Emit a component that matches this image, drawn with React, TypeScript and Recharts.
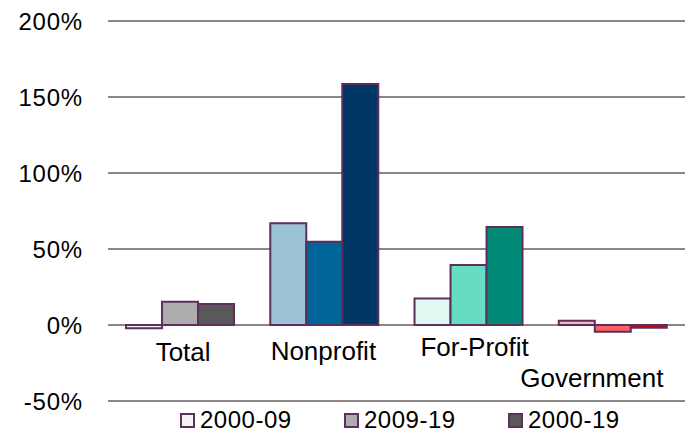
import { BarChart, Bar, XAxis, YAxis, CartesianGrid, Cell } from "recharts";

const categories = ["Total", "Nonprofit", "For-Profit", "Government"];
const seriesNames = ["2000-09", "2009-19", "2000-19"];
const values0009 = [-2.2, 66.9, 17.5, 2.8];
const values0919 = [15.3, 54.8, 39.5, -4.4];
const values0019 = [13.8, 158.6, 64.5, -1.8];
const yTicks = [-50, 0, 50, 100, 150, 200];

// fill colours per category, one list per series
const fills0009 = ["#f2f2f2", "#9dc3d6", "#e0f9ef", "#f9b5b8"];
const fills0919 = ["#adadad", "#006599", "#66dcc2", "#ff6161"];
const fills0019 = ["#595959", "#003764", "#008975", "#c00000"];
const legendFills = ["#f2f2f2", "#adadad", "#595959"];

const STROKE = "#5e2f5e";
const GRID = "#8e8585";
const FONT = "Arial, 'Liberation Sans', sans-serif";

// Excel puts the category labels in odd places; shift each one to match
// (offsets are measured from the bottom edge of the plot)
const labelShift: [number, number][] = [
  [3, -49],
  [-1, -50],
  [6, -54],
  [-21, -23],
];

const data = categories.map((name, i) => ({
  name,
  a: values0009[i],
  b: values0919[i],
  c: values0019[i],
}));

const PLOT_BOTTOM = 401;

function CategoryTick(props: any) {
  const { x, payload, index } = props;
  const [dx, dy] = labelShift[index] ?? [0, 0];
  return (
    <text
      x={x + dx}
      y={PLOT_BOTTOM + dy}
      textAnchor="middle"
      dominantBaseline="central"
      fontSize={26}
      fontFamily={FONT}
      fill="#000"
    >
      {payload.value}
    </text>
  );
}

export default function App() {
  const series = [
    { key: "a", fills: fills0009 },
    { key: "b", fills: fills0919 },
    { key: "c", fills: fills0019 },
  ];
  return (
    <div style={{ position: "absolute", left: 0, top: 0, width: 691, height: 434, background: "#fff" }}>
      <BarChart
        width={691}
        height={434}
        data={data}
        margin={{ top: 21, right: 6, bottom: 0, left: 0 }}
        barCategoryGap="12.5%"
        barGap={0}
      >
        <CartesianGrid vertical={false} stroke={GRID} strokeWidth={2} />
        <XAxis
          dataKey="name"
          height={33}
          axisLine={false}
          tickLine={false}
          interval={0}
          tick={(p: any) => <CategoryTick {...p} />}
        />
        <YAxis
          width={108}
          domain={[-50, 200]}
          ticks={yTicks}
          interval={0}
          axisLine={false}
          tickLine={false}
          tickFormatter={(v: number) => `${v}%`}
          tick={{ fill: "#000", fontSize: 24, fontFamily: FONT, letterSpacing: 0.8 }}
          tickMargin={19}
        />
        {series.map((s) => (
          <Bar key={s.key} dataKey={s.key} stroke={STROKE} strokeWidth={2} isAnimationActive={false}>
            {data.map((_, i) => (
              <Cell key={`${s.key}-${i}`} fill={s.fills[i]} />
            ))}
          </Bar>
        ))}
      </BarChart>
      <div
        style={{
          position: "absolute",
          left: 180,
          top: 406,
          display: "flex",
          alignItems: "center",
          fontFamily: FONT,
          fontSize: 24,
          letterSpacing: 0.5,
          color: "#000",
          lineHeight: "28px",
        }}
      >
        {seriesNames.map((name, i) => (
          <div key={name} style={{ display: "flex", alignItems: "center", width: i < 2 ? 164 : "auto" }}>
            <span
              style={{
                display: "inline-block",
                width: 11,
                height: 11,
                background: legendFills[i],
                border: `2px solid ${STROKE}`,
                marginRight: 5,
              }}
            />
            <span>{name}</span>
          </div>
        ))}
      </div>
    </div>
  );
}
